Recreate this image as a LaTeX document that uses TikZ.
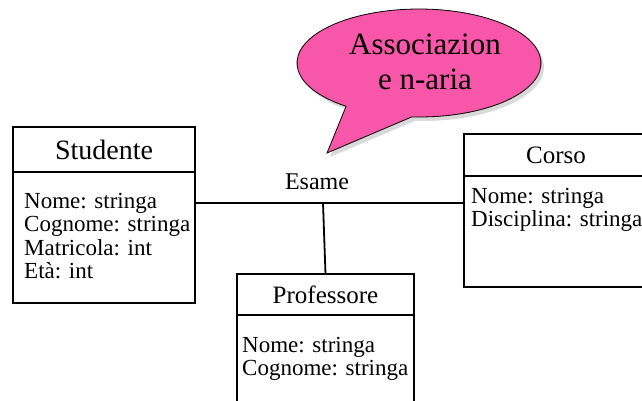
\documentclass[tikz,border=0pt]{standalone}
\usepackage{fontspec}
\setmainfont{Liberation Serif}
\usetikzlibrary{positioning, shadows}

\definecolor{notepink}{RGB}{248,86,168}

\tikzset{
  classhead/.style={draw, line width=1.8pt, outer sep=0pt, inner sep=0pt, font=\fontsize{25}{28}\selectfont},
  classbody/.style={draw, line width=1.8pt, outer sep=0pt, inner sep=0pt},
  attrs/.style={anchor=north west, align=left, inner sep=0pt, font=\fontsize{23}{23.5}\selectfont},
  link/.style={line width=1.8pt},
}

\begin{document}
\begin{tikzpicture}[x=1pt, y=-1pt]
  \useasboundingbox (0,0) rectangle (642,400);
  \clip (0,0) rectangle (642,400);

  % Callout
  \draw[fill=notepink, line width=0.8pt, drop shadow={shadow xshift=3pt, shadow yshift=-4pt, opacity=0.3}, shift={(419,63)}]
    (126.7:122 and 54) arc[start angle=126.7, end angle=453.4, x radius=122, y radius=54]
    -- (-92,90) -- cycle;
  \node[align=center, font=\fontsize{31}{35}\selectfont] (note) at (425,62) {Associazion\\e n-aria};

  % Classes
  \node[classhead, minimum width=182pt, minimum height=45pt, font=\fontsize{28}{30}\selectfont] (stuH) at (104,149.5) {Studente};
  \node[classbody, minimum width=182pt, minimum height=131pt, below=0pt of stuH] (stuB) {};
  \node[attrs] (stuA) at (24,193) {Nome: stringa\\Cognome: stringa\\Matricola: int\\Età: int};

  \node[classhead, minimum width=184pt, minimum height=42pt] (corH) at (556,155) {Corso};
  \node[classbody, minimum width=184pt, minimum height=111pt, below=0pt of corH] (corB) {};
  \node[attrs] (corA) at (471,188) {Nome: stringa\\Disciplina: stringa};

  \node[classhead, minimum width=177pt, minimum height=41pt] (proH) at (325.5,294.5) {Professore};
  \node[classbody, minimum width=177pt, minimum height=100pt, below=0pt of proH] (proB) {};
  \node[attrs] (proA) at (242,337) {Nome: stringa\\Cognome: stringa};

  % Association
  \coordinate (hub) at (323,203);
  \node[font=\fontsize{24}{28}\selectfont] (esame) at (317,182) {Esame};
  \draw[link] (stuB.east |- hub) -- (corB.west |- hub);
  \draw[link] (hub) -- (proH.north);
\end{tikzpicture}
\end{document}
